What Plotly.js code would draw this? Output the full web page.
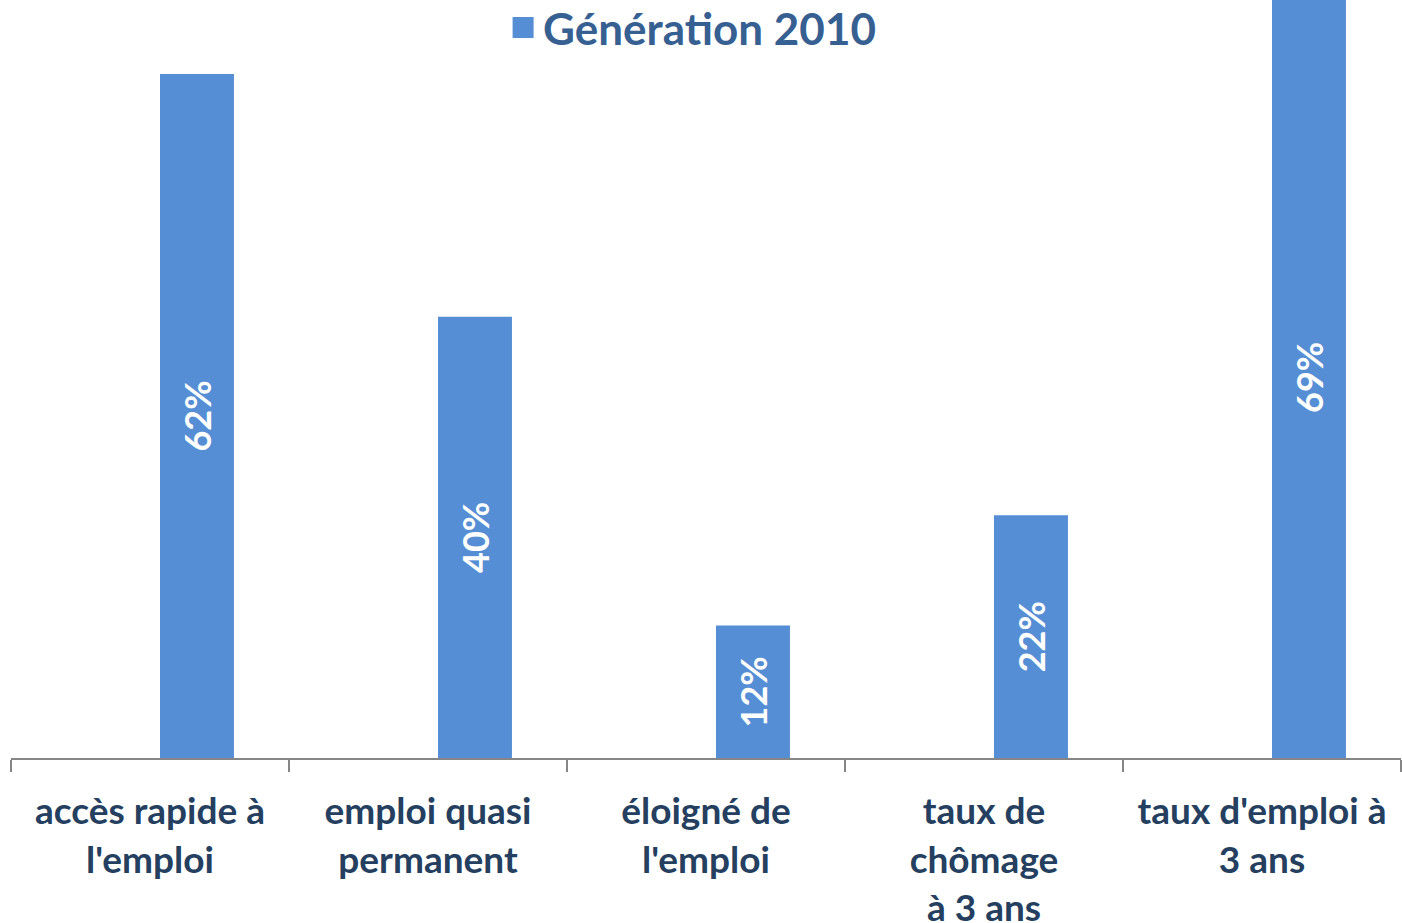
<!DOCTYPE html>
<html><head><meta charset="utf-8">
<script src="https://cdn.plot.ly/plotly-3.0.1.min.js"></script>
<style>html,body{margin:0;padding:0;background:#fff}#chart{width:1402px;height:923px}</style>
</head><body><div id="chart"></div>
<script>
const categories = ["accès rapide à<br>l'emploi", "emploi quasi<br>permanent", "éloigné de<br>l'emploi", "taux de<br>chômage<br>à 3 ans", "taux d'emploi à<br>3 ans"];
const values = [62, 40, 12, 22, 69];
const valueLabels = ["62%", "40%", "12%", "22%", "69%"];
const seriesName = "Génération 2010";
const barColor = '#558ED5';

const trace = {
  type: 'bar', x: categories, y: values, name: seriesName,
  text: valueLabels, textposition: 'inside', insidetextanchor: 'middle', textangle: -90,
  textfont: {family: 'Lato, sans-serif', size: 36, color: '#ffffff', weight: 'bold'},
  marker: {color: barColor}, width: 0.266, offset: 0.036, cliponaxis: true, showlegend: false,
  hoverinfo: 'none'
};
const legendTrace = {
  type: 'scatter', mode: 'markers', x: [categories[0]], y: [null], name: seriesName,
  marker: {symbol: 'square', size: 16, color: barColor, line: {color: barColor, width: 5}},
  showlegend: true, hoverinfo: 'none'
};
const layout = {
  width: 1402, height: 923,
  margin: {l: 11, r: 1, t: 0, b: 165, autoexpand: false},
  paper_bgcolor: '#ffffff', plot_bgcolor: '#ffffff',
  showlegend: true,
  legend: {orientation: 'h', x: 0.49, xanchor: 'center', y: 1.01, yanchor: 'top', itemsizing: 'trace',
    font: {family: 'Lato, sans-serif', size: 44, color: '#376092', weight: 'bold'}, bgcolor: 'rgba(0,0,0,0)'},
  xaxis: {showline: true, linecolor: '#868686', linewidth: 2, ticks: 'outside', tickson: 'boundaries',
    ticklen: 12, tickcolor: '#868686', tickwidth: 2, showgrid: false, zeroline: false,
    tickfont: {family: 'Lato, sans-serif', size: 37, color: '#243F60', weight: 'bold'}, ticklabelstandoff: 20},
  yaxis: {range: [0, 68.7], visible: false, showgrid: false, zeroline: false}
};
Plotly.newPlot('chart', [trace, legendTrace], layout, {displayModeBar: false, staticPlot: true});
</script></body></html>
